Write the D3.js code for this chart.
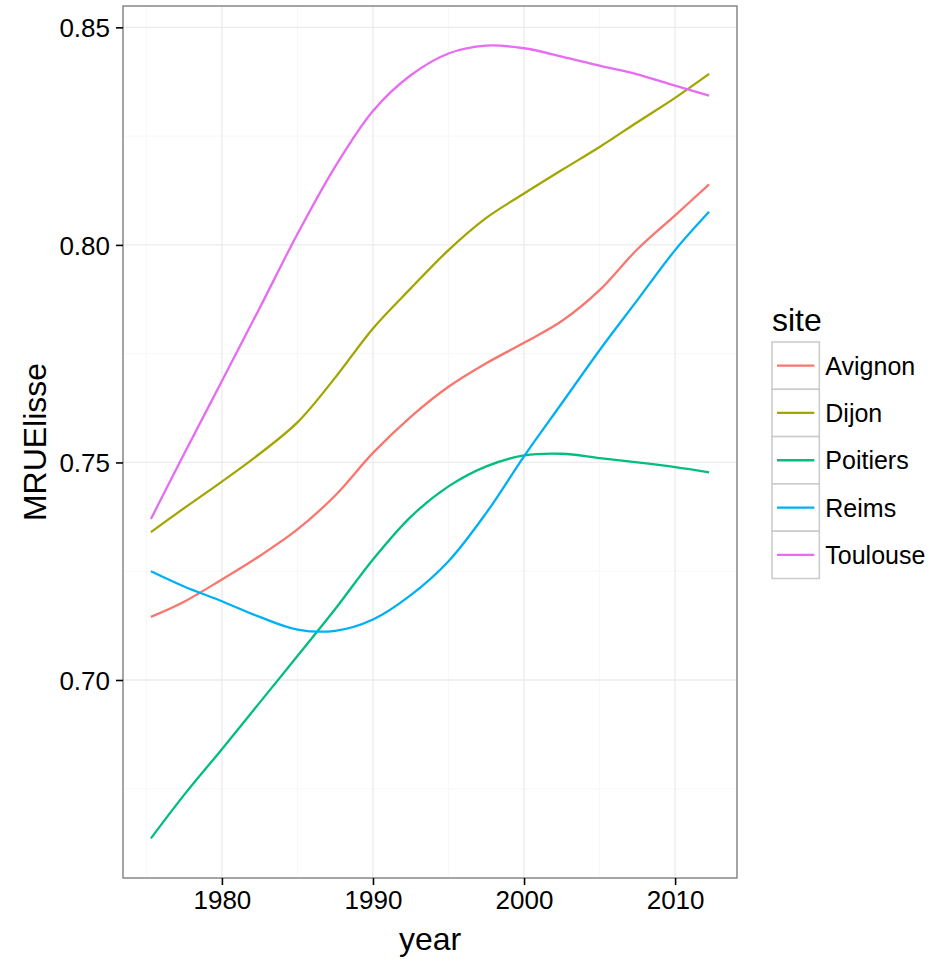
<!DOCTYPE html>
<html>
<head>
<meta charset="utf-8">
<script src="https://cdn.jsdelivr.net/npm/d3@7"></script>
<style>
  body { margin: 0; background: #fff; }
  svg text { font-family: "Liberation Sans", Arial, sans-serif; fill: #000; }
</style>
</head>
<body>
<svg id="chart" width="947" height="959"></svg>
<script>
const years = [1975.3, 1977.5, 1980, 1982.5, 1985, 1987.5, 1990, 1992.5,
               1995, 1997.5, 2000, 2002.5, 2005, 2007.5, 2010, 2012.25];

const sites = ["Avignon", "Dijon", "Poitiers", "Reims", "Toulouse"];
const colors = ["#F8766D", "#A3A500", "#00BF7D", "#00B0F6", "#E76BF3"];

const avignon  = [0.7145, 0.7180, 0.7231, 0.7285, 0.7346, 0.7424, 0.7522, 0.7605,
                  0.7674, 0.7728, 0.7775, 0.7825, 0.7896, 0.7990, 0.8068, 0.8139];
const dijon    = [0.7340, 0.7395, 0.7456, 0.7520, 0.7592, 0.7695, 0.7808, 0.7900,
                  0.7988, 0.8062, 0.8118, 0.8172, 0.8225, 0.8282, 0.8338, 0.8393];
const poitiers = [0.6636, 0.6736, 0.6841, 0.6948, 0.7055, 0.7163, 0.7277, 0.7375,
                  0.7445, 0.7491, 0.7516, 0.7520, 0.7510, 0.7500, 0.7489, 0.7477];
const reims    = [0.7250, 0.7215, 0.7181, 0.7145, 0.7116, 0.7113, 0.7139, 0.7195,
                  0.7273, 0.7384, 0.7514, 0.7636, 0.7758, 0.7873, 0.7988, 0.8076];
const toulouse = [0.7370, 0.7520, 0.7687, 0.7855, 0.8025, 0.8180, 0.8308, 0.8390,
                  0.8440, 0.8458, 0.8452, 0.8433, 0.8412, 0.8392, 0.8366, 0.8343];

const xTicks = [1980, 1990, 2000, 2010];
const xMinor = [1975, 1985, 1995, 2005];
const yTicks = [0.70, 0.75, 0.80, 0.85];
const yMinor = [0.675, 0.725, 0.775, 0.825];

const seriesValues = [avignon, dijon, poitiers, reims, toulouse];

const svg = d3.select("#chart");
const panel = { left: 123, right: 737, top: 6, bottom: 878 };

// ggplot style 5% expansion
function expand(ext) {
    const pad = (ext[1] - ext[0]) * 0.05;
    return [ext[0] - pad, ext[1] + pad];
}

const allValues = seriesValues.flat();
const x = d3.scaleLinear().domain(expand(d3.extent(years))).range([panel.left, panel.right]);
const y = d3.scaleLinear().domain(expand(d3.extent(allValues))).range([panel.bottom, panel.top]);

// grid
const grid = svg.append("g");
grid.selectAll(".xminor").data(xMinor).enter().append("line")
    .attr("x1", d => x(d)).attr("x2", d => x(d))
    .attr("y1", panel.top).attr("y2", panel.bottom)
    .attr("stroke", "#F7F7F7").attr("stroke-width", 1);
grid.selectAll(".yminor").data(yMinor).enter().append("line")
    .attr("y1", d => y(d)).attr("y2", d => y(d))
    .attr("x1", panel.left).attr("x2", panel.right)
    .attr("stroke", "#F7F7F7").attr("stroke-width", 1);
grid.selectAll(".xmajor").data(xTicks).enter().append("line")
    .attr("x1", d => x(d)).attr("x2", d => x(d))
    .attr("y1", panel.top).attr("y2", panel.bottom)
    .attr("stroke", "#EBEBEB").attr("stroke-width", 1.3);
grid.selectAll(".ymajor").data(yTicks).enter().append("line")
    .attr("y1", d => y(d)).attr("y2", d => y(d))
    .attr("x1", panel.left).attr("x2", panel.right)
    .attr("stroke", "#EBEBEB").attr("stroke-width", 1.3);

// curves
const line = d3.line()
    .x(d => x(d[0]))
    .y(d => y(d[1]))
    .curve(d3.curveCatmullRom.alpha(0.5));

svg.append("g").selectAll("path")
    .data(sites.map((s, i) => ({ site: s, color: colors[i], pts: years.map((yr, j) => [yr, seriesValues[i][j]]) })))
    .enter().append("path")
    .attr("d", d => line(d.pts))
    .attr("fill", "none")
    .attr("stroke", d => d.color)
    .attr("stroke-width", 2.3);

// panel border
svg.append("rect")
    .attr("x", panel.left).attr("y", panel.top)
    .attr("width", panel.right - panel.left).attr("height", panel.bottom - panel.top)
    .attr("fill", "none").attr("stroke", "#7F7F7F").attr("stroke-width", 1.4);

// axes
const xAxis = d3.axisBottom(x).tickValues(xTicks).tickSize(7).tickPadding(6).tickFormat(d3.format("d"));
const yAxis = d3.axisLeft(y).tickValues(yTicks).tickSize(7).tickPadding(6).tickFormat(d3.format(".2f"));

const gx = svg.append("g").attr("transform", `translate(0,${panel.bottom})`).call(xAxis);
const gy = svg.append("g").attr("transform", `translate(${panel.left},0)`).call(yAxis);
[gx, gy].forEach(g => {
    g.select(".domain").remove();
    g.selectAll(".tick line").attr("stroke", "#000").attr("stroke-width", 1.6);
    g.selectAll(".tick text").attr("font-size", 26).attr("fill", "#000");
});
gx.selectAll(".tick text").attr("dy", "0.71em");
gy.selectAll(".tick text").attr("dy", "0.36em");

// axis titles
svg.append("text")
    .attr("x", (panel.left + panel.right) / 2).attr("y", 950)
    .attr("text-anchor", "middle").attr("font-size", 32)
    .text("year");
svg.append("text")
    .attr("transform", `translate(46,${(panel.top + panel.bottom) / 2}) rotate(-90)`)
    .attr("text-anchor", "middle").attr("font-size", 32)
    .text("MRUElisse");

// legend
const legend = svg.append("g").attr("transform", "translate(772,342)");
const keyH = 47.3, keyW = 47.3;
legend.append("text").attr("x", 0).attr("y", -11).attr("font-size", 32).text("site");
const keys = legend.selectAll(".key").data(sites).enter().append("g")
    .attr("transform", (d, i) => `translate(0,${i * keyH})`);
keys.append("rect")
    .attr("width", keyW).attr("height", keyH)
    .attr("fill", "#fff").attr("stroke", "#CCCCCC").attr("stroke-width", 1.6);
keys.append("line")
    .attr("x1", 5).attr("x2", keyW - 5)
    .attr("y1", keyH / 2).attr("y2", keyH / 2)
    .attr("stroke", (d, i) => colors[i]).attr("stroke-width", 2.3);
keys.append("text")
    .attr("x", keyW + 6).attr("y", keyH / 2).attr("dy", "0.36em")
    .attr("font-size", 25)
    .text(d => d);
</script>
</body>
</html>
